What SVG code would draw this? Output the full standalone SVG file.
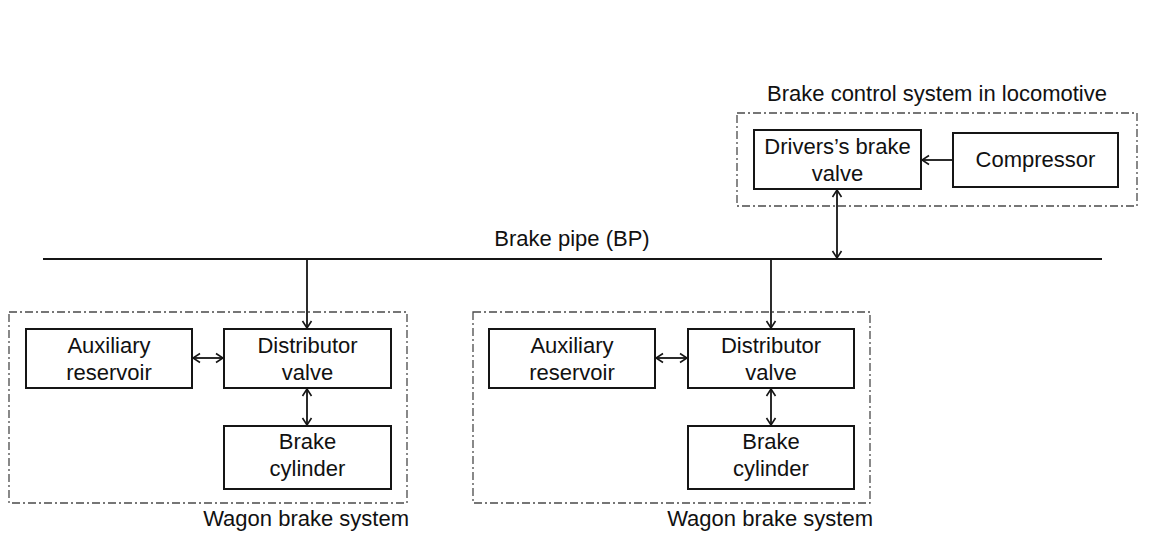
<svg xmlns="http://www.w3.org/2000/svg" width="1156" height="533" viewBox="0 0 1156 533">
  <style>
    .box { fill: #fff; stroke: #151515; stroke-width: 2; }
    .grp { fill: none; stroke: #4a4a4a; stroke-width: 1.3; stroke-dasharray: 8 3 2 3; }
    .lbl { font-family: "Liberation Sans", Arial, sans-serif; font-size: 22px; fill: #111; }
    .c { text-anchor: middle; }
    .conn { fill: none; stroke: #151515; stroke-width: 1.8; }
  </style>
  <defs>
    <marker id="ah" viewBox="-9 -6 10 12" refX="0" refY="0" markerWidth="10" markerHeight="12" markerUnits="userSpaceOnUse" orient="auto-start-reverse">
      <path d="M-7,-4.5 L0,0 L-7,4.5" fill="none" stroke="#151515" stroke-width="1.6"/>
    </marker>
  </defs>
  <rect x="0" y="0" width="1156" height="533" fill="#fff"/>

  <g id="locomotive-system">
    <rect class="grp" x="737" y="113" width="400" height="93"/>
    <text class="lbl c" x="937" y="101">Brake control system in locomotive</text>
  </g>
  <g id="drivers-brake-valve">
    <rect class="box" x="754" y="130" width="167" height="59"/>
    <text class="lbl c" x="837.5" y="154">Drivers’s brake</text>
    <text class="lbl c" x="837.5" y="181">valve</text>
  </g>
  <g id="compressor">
    <rect class="box" x="953" y="133" width="165" height="54"/>
    <text class="lbl c" x="1035.5" y="167">Compressor</text>
  </g>

  <g id="brake-pipe-label">
    <text class="lbl c" x="572" y="246">Brake pipe (BP)</text>
  </g>

  <g id="wagon1-system">
    <rect class="grp" x="9" y="312" width="398" height="191"/>
    <text class="lbl" x="409" y="526" text-anchor="end">Wagon brake system</text>
  </g>
  <g id="wagon1-aux-reservoir">
    <rect class="box" x="26" y="329" width="166" height="59"/>
    <text class="lbl c" x="109" y="353">Auxiliary</text>
    <text class="lbl c" x="109" y="380">reservoir</text>
  </g>
  <g id="wagon1-distributor-valve">
    <rect class="box" x="224" y="329" width="167" height="59"/>
    <text class="lbl c" x="307.5" y="353">Distributor</text>
    <text class="lbl c" x="307.5" y="380">valve</text>
  </g>
  <g id="wagon1-brake-cylinder">
    <rect class="box" x="224" y="426" width="167" height="63"/>
    <text class="lbl c" x="307.5" y="449">Brake</text>
    <text class="lbl c" x="307.5" y="476">cylinder</text>
  </g>

  <g id="wagon2-system">
    <rect class="grp" x="473" y="312" width="397" height="191"/>
    <text class="lbl" x="873" y="526" text-anchor="end">Wagon brake system</text>
  </g>
  <g id="wagon2-aux-reservoir">
    <rect class="box" x="489" y="329" width="166" height="59"/>
    <text class="lbl c" x="572" y="353">Auxiliary</text>
    <text class="lbl c" x="572" y="380">reservoir</text>
  </g>
  <g id="wagon2-distributor-valve">
    <rect class="box" x="688" y="329" width="166" height="59"/>
    <text class="lbl c" x="771" y="353">Distributor</text>
    <text class="lbl c" x="771" y="380">valve</text>
  </g>
  <g id="wagon2-brake-cylinder">
    <rect class="box" x="688" y="426" width="166" height="63"/>
    <text class="lbl c" x="771" y="449">Brake</text>
    <text class="lbl c" x="771" y="476">cylinder</text>
  </g>

  <g id="connectors">
    <path class="conn" d="M43,259 H1102" stroke-width="2"/>
    <path class="conn" d="M837,190 V258" marker-start="url(#ah)" marker-end="url(#ah)"/>
    <path class="conn" d="M953,160 H922" marker-end="url(#ah)"/>
    <path class="conn" d="M307,259 V328" marker-end="url(#ah)"/>
    <path class="conn" d="M193,358 H223" marker-start="url(#ah)" marker-end="url(#ah)"/>
    <path class="conn" d="M307,389 V425" marker-start="url(#ah)" marker-end="url(#ah)"/>
    <path class="conn" d="M771,259 V328" marker-end="url(#ah)"/>
    <path class="conn" d="M656,358 H687" marker-start="url(#ah)" marker-end="url(#ah)"/>
    <path class="conn" d="M771,389 V425" marker-start="url(#ah)" marker-end="url(#ah)"/>
  </g>
</svg>
